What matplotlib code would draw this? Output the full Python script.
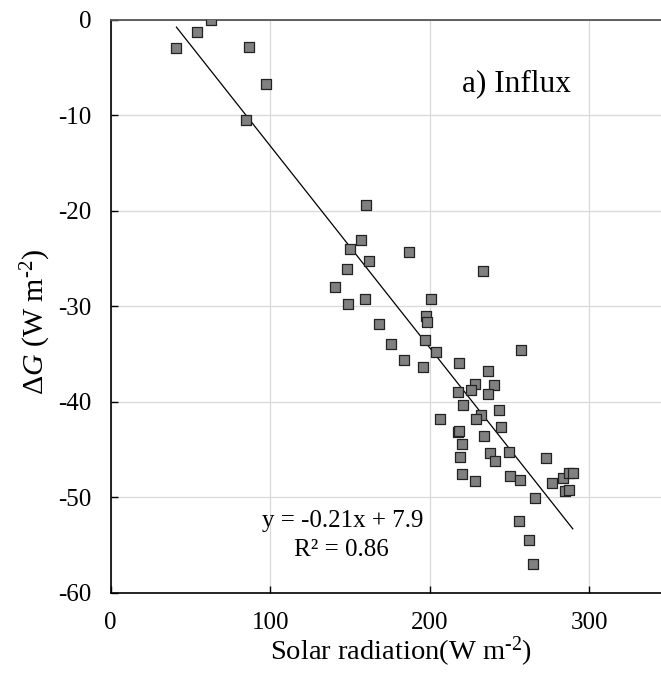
import matplotlib
matplotlib.use('Agg')
import matplotlib.pyplot as plt
import numpy as np

# Solar radiation (W m-2) and Delta G (W m-2)
solar = [41.2, 54.0, 63.1, 86.6, 97.3, 84.9,
         160.0, 156.9, 150.0, 187.2, 161.7, 147.9, 233.4, 140.9, 148.7, 159.4, 201.0,
         168.4, 197.9, 198.1, 175.9, 197.2, 204.1, 183.6, 195.8, 218.4, 257.0,
         236.6, 228.2, 225.7, 217.5, 240.4, 236.6, 220.9, 243.5, 232.2, 228.8,
         206.2, 244.9, 217.8, 218.6, 234.3, 220.0, 238.0, 249.5, 219.2, 241.2,
         273.0, 220.0, 228.2, 250.4, 256.4, 276.7, 266.1,
         283.7, 287.2, 289.7, 284.9, 287.6, 256.2, 262.3, 264.6]
delta_g = [-2.93, -1.29, -0.03, -2.83, -6.74, -10.48,
           -19.38, -23.05, -23.96, -24.31, -25.22, -26.09, -26.33, -28.0, -29.75, -29.23, -29.23,
           -31.82, -31.01, -31.67, -33.94, -33.56, -34.81, -35.59, -36.35, -35.96, -34.57,
           -36.74, -38.10, -38.73, -39.00, -38.24, -39.15, -40.30, -40.89, -41.41, -41.80,
           -41.77, -42.57, -43.16, -43.06, -43.58, -44.45, -45.36, -45.23, -45.71, -46.23,
           -45.89, -47.49, -48.27, -47.74, -48.12, -48.51, -50.01,
           -47.91, -47.39, -47.46, -49.27, -49.17, -52.41, -54.45, -56.99]

x_ticks = [0, 100, 200, 300]
y_ticks = [0, -10, -20, -30, -40, -50, -60]

plt.rcParams['font.family'] = ['Liberation Serif', 'DejaVu Serif']
plt.rcParams['mathtext.fontset'] = 'custom'
plt.rcParams['mathtext.rm'] = 'Liberation Serif'
plt.rcParams['mathtext.it'] = 'Liberation Serif:italic'
plt.rcParams['axes.unicode_minus'] = False

fig = plt.figure(figsize=(6.61, 6.75), dpi=100)
ax = fig.add_axes([0.1675, 0.1215, 0.8325, 0.8489])

x = np.array(solar)
y = np.array(delta_g)

# ligne de tendance linéaire
a, b = np.polyfit(x, y, 1)
xs = np.array([x.min(), x.max()])
ax.plot(xs, a * xs + b, color='black', lw=0.9, zorder=3)

ax.scatter(x, y, marker='s', s=44, facecolor='#808080', edgecolor='#222222',
           linewidths=0.9, zorder=4)

ax.set_xlim(0, 345)
ax.set_ylim(-60, 0)
ax.set_xticks(x_ticks)
ax.set_yticks(y_ticks)
ax.grid(True, color='#d9d9d9', lw=0.9, zorder=0)
ax.set_axisbelow(True)

ax.tick_params(direction='in', length=5, width=1, labelsize=18, pad=14, color='black')
ax.spines['right'].set_visible(False)
ax.spines['top'].set_color('#555555')
ax.spines['top'].set_linewidth(1.3)
ax.spines['left'].set_linewidth(1.2)
ax.spines['bottom'].set_linewidth(1.2)

ax.set_xlabel(r'Solar radiation(W m$^{\text{-2}}$)', fontsize=20.5)
ax.xaxis.set_label_coords(0.527, -0.073)
ax.set_ylabel(r'Δ$\mathit{G}$ (W m$^{\text{-2}}$)', fontsize=21.5)
ax.yaxis.set_label_coords(-0.105, 0.473)

ax.text(288.6, -7.44, 'a) Influx', fontsize=22.5, ha='right', va='baseline')
ax.text(195.8, -53.08, 'y = -0.21x + 7.9', fontsize=18, ha='right', va='baseline')
ax.text(174.6, -56.15, 'R² = 0.86', fontsize=18, ha='right', va='baseline')

plt.savefig('out.png', dpi=100)
